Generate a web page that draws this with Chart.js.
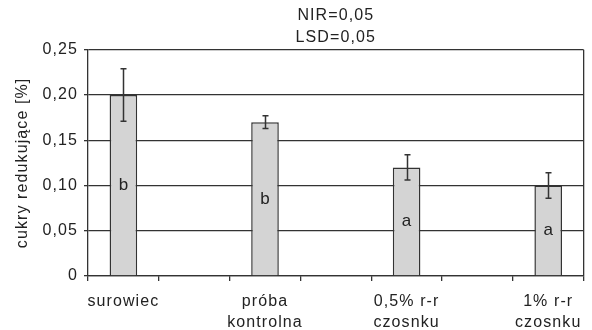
<!DOCTYPE html>
<html>
<head>
<meta charset="utf-8">
<script src="https://cdn.jsdelivr.net/npm/chart.js@4/dist/chart.umd.min.js"></script>
<style>
  html, body { margin: 0; padding: 0; background: #fff; }
  canvas { display: block; }
</style>
</head>
<body>
<canvas id="chart" width="592" height="330"></canvas>
<script>
// Reducing sugars by sample type
const categories = [['surowiec'], ['próba', 'kontrolna'], ['0,5% r-r', 'czosnku'], ['1% r-r', 'czosnku']];
const values = [0.20, 0.17, 0.12, 0.10];
const errors = [0.029, 0.007, 0.014, 0.014];
const groups = ['b', 'b', 'a', 'a'];
const titleLines = ['NIR=0,05', 'LSD=0,05'];
const yTickValues = [0, 0.05, 0.10, 0.15, 0.20, 0.25];

// Each sample sits in every other slot, leaving a gap slot between bars
const slotLabels = [], slotValues = [], slotErrors = [], slotGroups = [];
categories.forEach((c, i) => {
  if (i > 0) { slotLabels.push(''); slotValues.push(null); slotErrors.push(null); slotGroups.push(''); }
  slotLabels.push(c); slotValues.push(values[i]); slotErrors.push(errors[i]); slotGroups.push(groups[i]);
});

const FONT = 'Liberation Sans, Arial, sans-serif';
const INK = '#222';
const LINE = '#333';
const TRACKING = '1.1px';

// Slightly wider tracking for all canvas text
const textTracking = {
  id: 'textTracking',
  beforeLayout(chart) { chart.ctx.letterSpacing = TRACKING; },
  beforeDraw(chart) { chart.ctx.letterSpacing = TRACKING; }
};

const errorBarsAndLetters = {
  id: 'errorBarsAndLetters',
  afterDatasetsDraw(chart) {
    const ctx = chart.ctx;
    const y = chart.scales.y;
    const meta = chart.getDatasetMeta(0);
    ctx.save();
    ctx.letterSpacing = '0px';
    meta.data.forEach((bar, i) => {
      const v = slotValues[i];
      if (v === null) return;
      const e = slotErrors[i];
      const x = Math.round(bar.x) + 0.5;
      const yTop = y.getPixelForValue(v + e);
      const yBot = y.getPixelForValue(v - e);
      ctx.strokeStyle = LINE;
      ctx.lineWidth = 1.5;
      ctx.beginPath();
      ctx.moveTo(x, yTop); ctx.lineTo(x, yBot);
      ctx.moveTo(x - 3, yTop); ctx.lineTo(x + 3, yTop);
      ctx.moveTo(x - 3, yBot); ctx.lineTo(x + 3, yBot);
      ctx.stroke();
      ctx.fillStyle = INK;
      ctx.font = '17px ' + FONT;
      ctx.textAlign = 'center';
      ctx.textBaseline = 'middle';
      ctx.fillText(slotGroups[i], bar.x, y.getPixelForValue(v / 2));
    });
    ctx.restore();
  }
};

new Chart(document.getElementById('chart'), {
  type: 'bar',
  data: {
    labels: slotLabels,
    datasets: [{
      data: slotValues,
      backgroundColor: '#d4d4d4',
      borderColor: LINE,
      borderWidth: 1.5,
      barPercentage: 0.39,
      categoryPercentage: 1.0
    }]
  },
  options: {
    responsive: false,
    animation: false,
    layout: { padding: { left: 0, right: 5, top: 0, bottom: 0 } },
    plugins: {
      legend: { display: false },
      tooltip: { enabled: false },
      title: {
        display: true,
        fullSize: false,
        text: titleLines,
        color: INK,
        font: { family: FONT, size: 16, weight: 'normal', lineHeight: 1.4 },
        padding: { top: 4, bottom: 1 }
      }
    },
    scales: {
      x: {
        offset: true,
        grid: {
          offset: true,
          drawOnChartArea: true,
          color: (c) => (c.type === 'tick' ? 'rgba(0,0,0,0)' : LINE),
          tickColor: LINE,
          tickLength: 5,
          lineWidth: 1.3
        },
        border: { display: true, color: LINE, width: 1.3 },
        ticks: {
          autoSkip: false,
          maxRotation: 0,
          minRotation: 0,
          padding: 10,
          color: INK,
          font: { family: FONT, size: 16, lineHeight: 1.3 }
        },
        afterFit(scale) { scale.height = 54; }
      },
      y: {
        min: 0,
        max: 0.25,
        afterBuildTicks(scale) { scale.ticks = yTickValues.map(v => ({ value: v })); },
        grid: { color: LINE, lineWidth: 1.3, tickLength: 4, tickColor: LINE },
        border: { display: true, color: LINE, width: 1.3 },
        ticks: {
          padding: 6,
          color: INK,
          font: { family: FONT, size: 16 },
          callback: (v) => (v === 0 ? '0' : v.toFixed(2).replace('.', ','))
        },
        title: {
          display: true,
          text: 'cukry redukujące [%]',
          color: INK,
          font: { family: FONT, size: 16 },
          padding: { top: 13, bottom: 0 }
        },
        afterFit(scale) { scale.width = 88; }
      }
    }
  },
  plugins: [textTracking, errorBarsAndLetters]
});
</script>
</body>
</html>
